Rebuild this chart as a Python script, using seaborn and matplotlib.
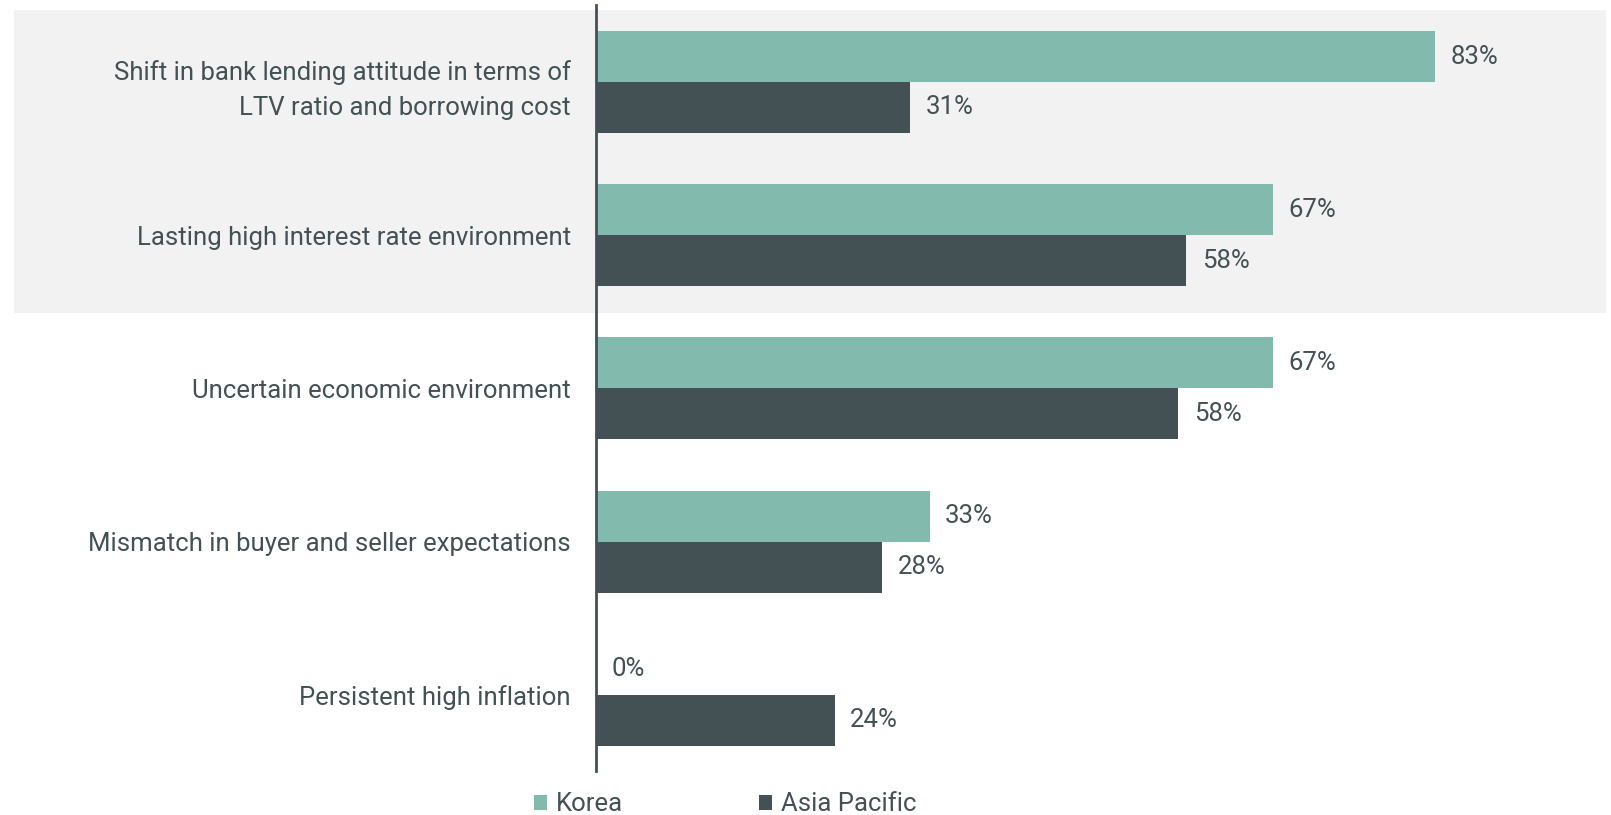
import matplotlib
matplotlib.use("Agg")
import matplotlib.pyplot as plt
from matplotlib.patches import Rectangle, Patch
import seaborn as sns
import pandas as pd

factors = [
    "Shift in bank lending attitude in terms of\nLTV ratio and borrowing cost",
    "Lasting high interest rate environment",
    "Uncertain economic environment",
    "Mismatch in buyer and seller expectations",
    "Persistent high inflation",
]
series = ["Korea", "Asia Pacific"]
korea = [83.0, 67.0, 67.0, 33.0, 0.0]
asia_pacific = [31.1, 58.4, 57.6, 28.3, 23.6]

colors = {"Korea": "#82BBAD", "Asia Pacific": "#435155"}
text_color = "#435155"
fs = 18.5

df = pd.DataFrame({
    "factor": factors * 2,
    "region": ["Korea"] * len(factors) + ["Asia Pacific"] * len(factors),
    "value": korea + asia_pacific,
})

sns.set_theme(style="white")
plt.rcParams["font.family"] = ["Roboto", "DejaVu Sans"]

fig = plt.figure(figsize=(16.11, 8.15), dpi=100)
ax = fig.add_axes([0.370, 0.0534, 0.625, 0.940])
ax.set_facecolor("none")

# highlighted band behind first two categories
band = Rectangle((0.0087, 0.616), 0.988, 0.372, transform=fig.transFigure,
                 facecolor="#F2F2F2", edgecolor="none", clip_on=False, zorder=0)
ax.add_patch(band)

sns.barplot(data=df, y="factor", x="value", hue="region", hue_order=series,
            order=factors, orient="h", palette=colors, width=0.665, gap=0,
            dodge=True, ax=ax, legend=False, saturation=1, zorder=2,
            linewidth=0, edgecolor="none")

for cont in ax.containers:
    labels = [f"{v:.0f}%" for v in cont.datavalues]
    ax.bar_label(cont, labels=labels, padding=11, fontsize=fs, color=text_color)

ax.set_xlim(0, 99.6)
ax.set_ylim(4.5, -0.5)
ax.set_xlabel("")
ax.set_ylabel("")
ax.set_xticks([])
for s in ["top", "right", "bottom"]:
    ax.spines[s].set_visible(False)
ax.spines["left"].set_color(text_color)
ax.spines["left"].set_linewidth(2)
ax.spines["left"].set_zorder(3)
ax.tick_params(axis="y", length=0, pad=18, labelsize=fs, labelcolor=text_color)
for t in ax.get_yticklabels():
    t.set_horizontalalignment("right")
    t.set_linespacing(1.6)

handles = [Patch(facecolor=colors[s], edgecolor="none", label=s) for s in series]
leg = fig.legend(handles=handles, loc="center", bbox_to_anchor=(0.450, 0.013),
                 ncol=2, frameon=False, fontsize=fs, handlelength=0.5,
                 handleheight=0.5, handletextpad=0.35, columnspacing=5.3)
for t in leg.get_texts():
    t.set_color(text_color)

fig.savefig("out.png", dpi=100)
